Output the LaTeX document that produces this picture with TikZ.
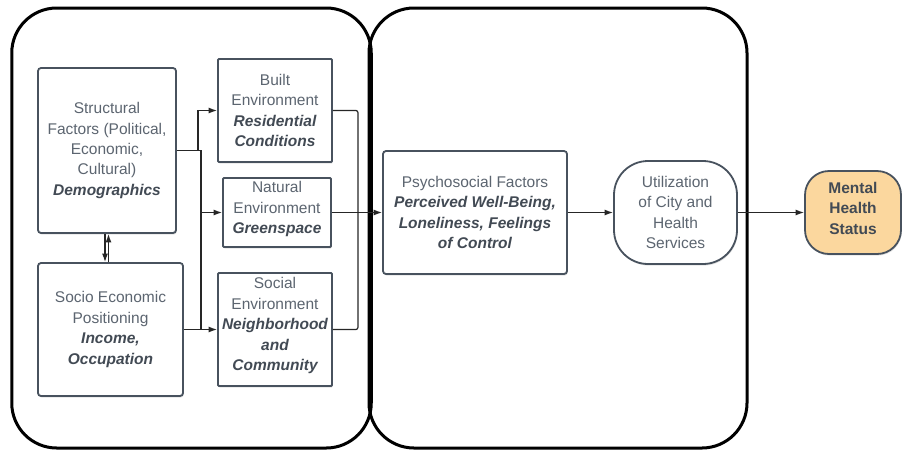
\documentclass[tikz,border=0pt]{standalone}
\usepackage{fontspec}
\setmainfont{Liberation Sans}
\usetikzlibrary{arrows.meta,shadows}
\definecolor{txt}{RGB}{92,101,112}
\definecolor{txtb}{RGB}{66,74,84}
\definecolor{edge}{RGB}{72,82,94}
\definecolor{mhfill}{RGB}{251,215,158}
\newcommand\bi[1]{{\color{txtb}\bfseries\itshape #1}}
\begin{document}
\begin{tikzpicture}[x=1pt,y=-1pt,
  container/.style={draw=black, line width=3pt, rounded corners=45pt, inner sep=0pt},
  box/.style={draw=edge, line width=1.8pt, fill=white, text=txt, align=center, inner sep=0pt,
    font=\fontsize{15.5}{20.4}\selectfont,
    drop shadow={opacity=0.22, shadow xshift=0.8pt, shadow yshift=-1.6pt}},
  conn/.style={draw=black!85, line width=1.2pt, -{Latex[length=8.5pt,width=6pt]}},
  plain/.style={draw=black!85, line width=1.2pt}]
\useasboundingbox (0,0) rectangle (904,451);
% containers
\node[container, minimum width=359.5pt, minimum height=440pt] (L) at (191.5,228) {};
\node[container, minimum width=378pt, minimum height=440pt] (R) at (558,228) {};
% boxes
\node[box, rounded corners=3pt, minimum width=138pt, minimum height=165pt] (S) at (107,150.5)
  {Structural\\Factors (Political,\\Economic,\\Cultural)\\\bi{Demographics}};
\node[box, rounded corners=3pt, minimum width=145pt, minimum height=133pt] (SE) at (110.5,329.5)
  {Socio Economic\\Positioning\\\bi{Income,}\\\bi{Occupation}};
\node[box, rounded corners=1pt, minimum width=114pt, minimum height=103pt] (B) at (275,110.5)
  {Built\\Environment\\\bi{Residential}\\\bi{Conditions}};
\node[box, rounded corners=1pt, minimum width=108pt, minimum height=69pt, text depth=10pt] (N) at (277,212.5)
  {Natural\\Environment\\\bi{Greenspace}};
\node[box, rounded corners=1pt, minimum width=114pt, minimum height=113pt, text depth=11pt] (SO) at (275,329.5)
  {Social\\Environment\\\bi{Neighborhood}\\\bi{and}\\\bi{Community}};
\node[box, rounded corners=3pt, minimum width=184pt, minimum height=123pt] (P) at (475,212.5)
  {Psychosocial Factors\\\bi{Perceived Well-Being,}\\\bi{Loneliness, Feelings}\\\bi{of Control}};
\node[box, rounded corners=34pt, minimum width=123pt, minimum height=103pt] (U) at (675.5,212.5)
  {Utilization\\of City and\\Health\\Services};
\node[box, fill=mhfill, rounded corners=24pt, minimum width=96pt, minimum height=83pt, text depth=9pt] (M) at (853,212.5)
  {\color{txtb}\bfseries Mental\\\color{txtb}\bfseries Health\\\color{txtb}\bfseries Status};
% connectors
\draw[conn] (S.east) -- ++(21,0) |- (B.west);
\draw[conn] (S.east) -- ++(24,0) |- (N.west);
\draw[plain] (S.east) ++(24,0) -- ++(0,179);
\draw[conn] (SE.east) -- (SO.west);
\draw[conn] ([xshift=-2pt]S.south) -- ([xshift=-2pt]S.south |- SE.north);
\draw[conn] ([xshift=1.5pt]S.south |- SE.north) -- ([xshift=1.5pt]S.south);
\draw[plain, rounded corners=2pt] (B.east) -- ++(25,0) |- (SO.east);
\draw[conn] (N.east) -- (P.west);
\draw[conn] (P.east) -- (U.west);
\draw[conn] (U.east) -- (M.west);
\end{tikzpicture}
\end{document}
